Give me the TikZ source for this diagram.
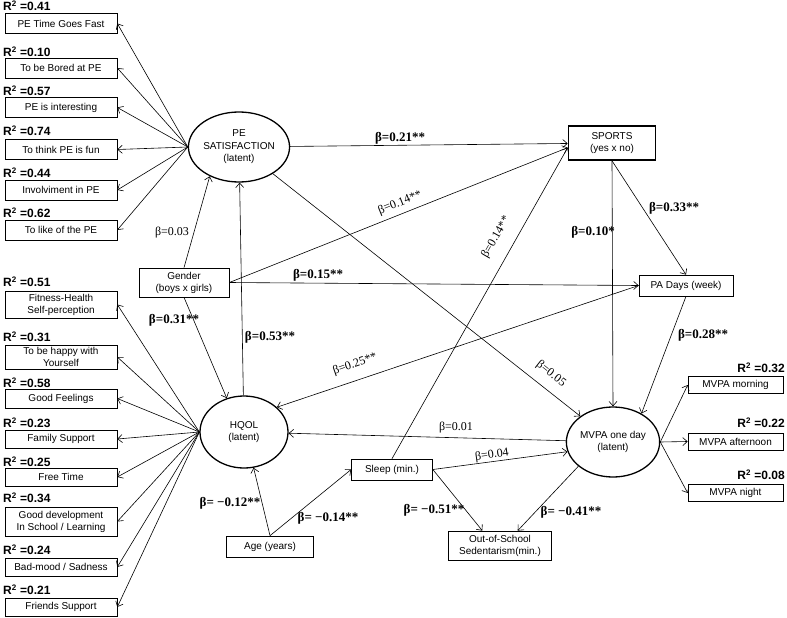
\documentclass[tikz,border=0pt]{standalone}
\usepackage{fontspec}
\setmainfont{Liberation Sans}
\newfontfamily\serifb{Liberation Serif}
\usetikzlibrary{arrows.meta, shapes.geometric}

\begin{document}
\begin{tikzpicture}[x=1pt, y=-1pt,
    ind/.style={draw, line width=0.6pt, minimum width=112pt, minimum height=20pt,
      inner sep=1pt, align=center, font=\fontsize{10}{12}\selectfont},
    var/.style={draw, line width=0.7pt, inner sep=1pt, align=center,
      font=\fontsize{10}{12}\selectfont},
    lat/.style={draw, ellipse, line width=1.3pt, minimum width=88pt,
      minimum height=70pt, inner sep=0pt, align=center,
      font=\fontsize{10}{12.5}\selectfont},
    pth/.style={-{Straight Barb[length=4.5pt,width=8pt]}, line width=0.6pt},
    rsq/.style={inner sep=0pt, font=\bfseries\fontsize{12}{12}\selectfont},
    bb/.style={inner sep=0pt, font=\serifb\bfseries\fontsize{13}{13}\selectfont},
    bn/.style={inner sep=0pt, font=\serifb\fontsize{12}{12}\selectfont}]
  \useasboundingbox (0,0) rectangle (787,618);
  % Latent variables.
  \node[lat] (pe) at (239,147) {PE\\SATISFACTION\\(latent)};
  \node[lat, minimum height=72pt] (hq) at (244,432) {HQOL\\(latent)};
  \node[lat, minimum width=90pt] (mv) at (613,442) {MVPA one day\\(latent)};
  % Observed variables.
  \node[var, line width=1.6pt, minimum width=87pt, minimum height=34pt] (sp) at (612,143) {SPORTS\\(yes x no)};
  \node[var, minimum width=94pt, minimum height=21pt] (pa) at (686,285.5) {PA Days (week)};
  \node[var, minimum width=90pt, minimum height=29pt] (ge) at (184,282.5) {Gender\\(boys x girls)};
  \node[var, minimum width=81pt, minimum height=21pt] (sl) at (392,469.5) {Sleep (min.)};
  \node[var, minimum width=87pt, minimum height=21pt] (age) at (270,546.5) {Age (years)};
  \node[var, minimum width=103pt, minimum height=29pt] (out) at (500,545.5) {Out-of-School\\Sedentarism(min.)};
  % Indicators of PE satisfaction.
  \node[ind] (p1) at (61,23.5) {PE Time Goes Fast};
  \node[ind] (p2) at (61,68) {To be Bored at PE};
  \node[ind] (p3) at (61,107.5) {PE is interesting};
  \node[ind] (p4) at (61,149.5) {To think PE is fun};
  \node[ind] (p5) at (61,190) {Involviment in PE};
  \node[ind] (p6) at (61,230) {To like of the PE};
  \node[rsq, anchor=west] (rp1) at (3,6) {R\textsuperscript{2} =0.41};
  \node[rsq, anchor=west] (rp2) at (3,52) {R\textsuperscript{2} =0.10};
  \node[rsq, anchor=west] (rp3) at (3,91) {R\textsuperscript{2} =0.57};
  \node[rsq, anchor=west] (rp4) at (3,131) {R\textsuperscript{2} =0.74};
  \node[rsq, anchor=west] (rp5) at (3,173) {R\textsuperscript{2} =0.44};
  \node[rsq, anchor=west] (rp6) at (3,213) {R\textsuperscript{2} =0.62};
  % Indicators of HQOL.
  \node[ind, minimum height=27pt] (h1) at (61,304.5) {Fitness-Health\\Self-perception};
  \node[ind, minimum height=24pt] (h2) at (61,357) {To be happy with\\Yourself};
  \node[ind, minimum height=19pt] (h3) at (61,398.5) {Good Feelings};
  \node[ind, minimum height=18pt] (h4) at (61,439) {Family Support};
  \node[ind, minimum height=18pt] (h5) at (61,477) {Free Time};
  \node[ind, minimum height=29pt] (h6) at (61,521.5) {Good development\\In School / Learning};
  \node[ind, minimum height=18pt] (h7) at (61,567) {Bad-mood / Sadness};
  \node[ind, minimum height=18pt] (h8) at (61,607) {Friends Support};
  \node[rsq, anchor=west] (rh1) at (3,282) {R\textsuperscript{2} =0.51};
  \node[rsq, anchor=west] (rh2) at (3,337) {R\textsuperscript{2} =0.31};
  \node[rsq, anchor=west] (rh3) at (3,383) {R\textsuperscript{2} =0.58};
  \node[rsq, anchor=west] (rh4) at (3,423) {R\textsuperscript{2} =0.23};
  \node[rsq, anchor=west] (rh5) at (3,462) {R\textsuperscript{2} =0.25};
  \node[rsq, anchor=west] (rh6) at (3,498) {R\textsuperscript{2} =0.34};
  \node[rsq, anchor=west] (rh7) at (3,550) {R\textsuperscript{2} =0.24};
  \node[rsq, anchor=west] (rh8) at (3,590) {R\textsuperscript{2} =0.21};
  % Indicators of MVPA.
  \node[ind, minimum width=95pt, minimum height=17pt] (m1) at (735.5,385) {MVPA morning};
  \node[ind, minimum width=95pt, minimum height=17pt] (m2) at (735.5,441.5) {MVPA afternoon};
  \node[ind, minimum width=95pt, minimum height=17pt] (m3) at (735.5,493) {MVPA night};
  \node[rsq, anchor=east] (rm1) at (785,368) {R\textsuperscript{2} =0.32};
  \node[rsq, anchor=east] (rm2) at (785,423) {R\textsuperscript{2} =0.22};
  \node[rsq, anchor=east] (rm3) at (785,475) {R\textsuperscript{2} =0.08};
  % Loadings.
  \draw[pth] (pe.west) -- (p1.east);
  \draw[pth] (pe.west) -- (p2.east);
  \draw[pth] (pe.west) -- (p3.east);
  \draw[pth] (pe.west) -- (p4.east);
  \draw[pth] (pe.west) -- (p5.east);
  \draw[pth] (pe.west) -- (p6.east);
  \draw[pth] (hq.west) -- (h1.east);
  \draw[pth] (hq.west) -- (h2.east);
  \draw[pth] (hq.west) -- (h3.east);
  \draw[pth] (hq.west) -- (h4.east);
  \draw[pth] (hq.west) -- (h5.east);
  \draw[pth] (hq.west) -- (h6.east);
  \draw[pth] (hq.west) -- (h7.east);
  \draw[pth] (hq.west) -- (h8.east);
  \draw[pth] (mv.east) -- (m1.west);
  \draw[pth] (mv.east) -- (m2.west);
  \draw[pth] (mv.east) -- (m3.west);
  % Structural paths.
  \draw[pth] (pe) -- (sp);
  \draw[pth] (pe) -- (mv);
  \draw[pth] (ge.east) -- (sp.186);
  \draw[pth] (ge.east) -- (pa.west);
  \draw[pth] (ge.north) -- (pe.225);
  \draw[pth] (ge.south) -- (hq.117);
  \draw[pth] (hq) -- (pe);
  \draw[pth] (pa.west) -- (hq.37);
  \draw[pth] (sp.south) -- (pa.north);
  \draw[pth] (sp.south) -- (mv.north);
  \draw[pth] (pa.south) -- (mv.45);
  \draw[pth] (mv) -- (hq);
  \draw[pth] (sl.north) -- (sp.186);
  \draw[pth] (sl.east) -- (mv.192);
  \draw[pth] (sl.east) -- (out.140);
  \draw[pth] (mv.215) -- (out.40);
  \draw[pth] (age.north) -- (hq.285);
  \draw[pth] (age.north) -- (sl.west);
  % Coefficients.
  \node[bb] (b1) at (400,138) {β=0.21**};
  \node[bn, rotate=21.7] (b2) at (400,203) {β=0.14**};
  \node[bb] (b3) at (318,275) {β=0.15**};
  \node[bn] (b4) at (172,233) {β=0.03};
  \node[bb] (b5) at (174,320) {β=0.31**};
  \node[bb] (b6) at (270,337) {β=0.53**};
  \node[bn, rotate=19] (b7) at (355,364) {β=0.25**};
  \node[bn, rotate=-38] (b8) at (551,374) {β=0.05};
  \node[bn, rotate=60] (b9) at (496,237) {β=0.14**};
  \node[bb, anchor=east] (b10) at (615,232) {β=0.10*};
  \node[bb] (b11) at (674,208) {β=0.33**};
  \node[bb] (b12) at (703,335) {β=0.28**};
  \node[bn] (b13) at (456,428) {β=0.01};
  \node[bn, rotate=8] (b14) at (492,455) {β=0.04};
  \node[bb] (b15) at (434,510) {β= −0.51**};
  \node[bb] (b16) at (571,512) {β= −0.41**};
  \node[bb] (b17) at (230,503) {β= −0.12**};
  \node[bb] (b18) at (328,518) {β= −0.14**};
\end{tikzpicture}
\end{document}
